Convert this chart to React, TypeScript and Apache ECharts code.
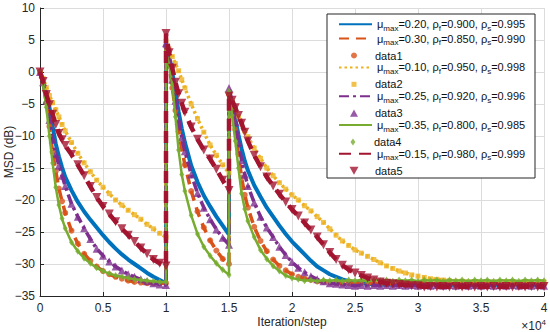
import React, { useEffect, useRef } from 'react';
import * as echarts from 'echarts';

// iteration index (steps)
const iterations = [
  0, 250, 500, 750, 1000, 1250, 1500, 1750, 2000, 2500, 3000, 3500, 4000, 4500, 5000, 5500, 6000, 6500, 7000, 7500, 8000, 8500, 9000, 9500, 10000,
  10000, 10250, 10500, 10750, 11000, 11250, 11500, 12000, 12500, 13000, 13500, 14000, 14500, 15000,
  15000, 15250, 15500, 15750, 16000, 16250, 16500, 17000, 17500, 18000, 18500, 19000, 19500, 20000,
  20500, 21000, 21500, 22000, 22500, 23000, 23500, 24000, 24500, 25000, 25500, 26000, 26500, 27000, 27500, 28000, 28500, 29000, 29500, 30000,
  30500, 31000, 31500, 32000, 32500, 33000, 33500, 34000, 34500, 35000, 35500, 36000, 36500, 37000, 37500, 38000, 38500, 39000, 39500, 40000,
];

const msdBlue = [
  0, -1.8, -3.5, -5.5, -8.5, -11.2, -13.2, -14.9, -16.4, -18.5, -20.3, -21.8, -23.1, -24.3, -25.5, -26.6, -27.6, -28.5, -29.3, -30.0, -30.7, -31.4, -32.0, -32.5, -33.0,
  4.5, 2.5, 0.0, -3.2, -6.2, -8.8, -11.0, -14.6, -17.2, -19.3, -21.0, -22.6, -24.0, -25.4,
  -3.0, -4.8, -7.3, -9.8, -12.0, -13.9, -15.4, -17.7, -19.5, -21.2, -22.6, -24.0, -25.3, -26.5,
  -27.5, -28.5, -29.5, -30.4, -31.0, -31.6, -32.0, -32.4, -32.7, -32.9, -33.0, -33.1, -33.2, -33.2, -33.3, -33.2, -33.3, -33.2, -33.3, -33.2,
  -33.3, -33.2, -33.3, -33.2, -33.3, -33.2, -33.3, -33.2, -33.3, -33.2, -33.3, -33.2, -33.3, -33.2, -33.3, -33.2, -33.3, -33.2, -33.3, -33.2,
];

const msdOrange = [
  0, -1.8, -4.8, -8.5, -12.5, -15.5, -18.2, -20.2, -22.0, -24.8, -26.8, -28.4, -29.5, -30.4, -31.1, -31.6, -32.0, -32.3, -32.6, -32.8, -32.9, -33.0, -33.0, -33.0, -33.0,
  4.0, 1.0, -2.5, -6.0, -9.3, -12.0, -14.5, -18.6, -21.8, -24.3, -26.3, -27.9, -29.2, -30.0,
  -3.5, -5.5, -9.0, -12.8, -16.5, -19.2, -21.2, -24.2, -26.4, -28.0, -29.3, -30.3, -31.0, -31.6,
  -32.0, -32.3, -32.5, -32.7, -32.8, -32.9, -33.0, -33.1, -33.0, -33.1, -33.0, -33.1, -33.0, -33.1, -33.0, -33.1, -33.0, -33.1, -33.0, -33.1,
  -33.0, -33.1, -33.0, -33.1, -33.0, -33.1, -33.0, -33.1, -33.0, -33.1, -33.0, -33.1, -33.0, -33.1, -33.0, -33.1, -33.0, -33.1, -33.0, -33.1,
];

const msdYellow = [
  0, -1.0, -2.4, -3.7, -4.8, -5.9, -7.0, -8.2, -9.2, -11.0, -12.7, -14.2, -15.6, -16.9, -18.0, -19.0, -20.0, -20.8, -21.6, -22.3, -23.0, -23.8, -24.5, -25.2, -25.8,
  4.8, 3.6, 2.4, 1.3, 0.2, -1.2, -2.5, -5.0, -7.3, -9.4, -11.4, -13.0, -14.5, -15.8,
  -3.3, -4.5, -5.8, -7.0, -8.2, -9.2, -10.1, -11.9, -13.5, -15.0, -16.2, -17.3, -18.3, -19.2,
  -20.0, -20.9, -21.7, -22.6, -23.5, -24.5, -25.5, -26.4, -27.1, -27.8, -28.3, -28.8, -29.3, -29.8, -30.3, -30.7, -31.1, -31.4, -31.7, -31.9,
  -32.1, -32.3, -32.4, -32.5, -32.6, -32.7, -32.7, -32.8, -32.8, -32.9, -32.8, -32.8, -32.9, -32.8, -32.8, -32.9, -32.8, -32.8, -32.9, -32.8,
];

const msdPurple = [
  0, -1.6, -4.5, -7.5, -10.5, -12.8, -14.6, -16.2, -17.8, -20.6, -22.6, -24.4, -26.1, -27.6, -28.7, -29.6, -30.4, -31.0, -31.6, -32.0, -32.4, -32.7, -33.0, -33.2, -33.3,
  4.5, 1.8, -1.2, -4.5, -7.6, -10.2, -12.4, -16.0, -18.9, -21.2, -23.0, -24.6, -25.9, -27.0,
  -2.5, -4.8, -7.8, -11.0, -13.8, -16.0, -17.8, -20.4, -22.6, -24.3, -25.8, -27.3, -28.6, -29.7,
  -30.6, -31.3, -31.9, -32.4, -32.7, -33.0, -33.1, -33.2, -33.3, -33.4, -33.3, -33.4, -33.3, -33.4, -33.3, -33.4, -33.3, -33.4, -33.3, -33.4,
  -33.3, -33.4, -33.3, -33.4, -33.3, -33.4, -33.3, -33.4, -33.3, -33.4, -33.3, -33.4, -33.3, -33.4, -33.3, -33.4, -33.3, -33.4, -33.3, -33.4,
];

const msdGreen = [
  0, -2.0, -5.5, -10.0, -14.2, -18.0, -20.8, -22.9, -24.4, -26.6, -28.0, -29.1, -29.9, -30.6, -31.1, -31.5, -31.8, -32.0, -32.2, -32.4, -32.5, -32.6, -32.7, -32.8, -32.8,
  3.2, 1.0, -2.0, -7.0, -12.2, -16.0, -18.6, -22.4, -25.3, -27.3, -28.7, -29.9, -30.9, -31.7,
  -3.0, -6.8, -10.8, -15.0, -19.0, -21.4, -23.3, -25.8, -27.8, -29.2, -30.3, -31.1, -31.8, -32.2,
  -32.4, -32.6, -32.5, -32.7, -32.5, -32.6, -32.5, -32.7, -32.5, -32.6, -32.5, -32.7, -32.5, -32.6, -32.5, -32.7, -32.5, -32.6, -32.5, -32.7,
  -32.5, -32.6, -32.5, -32.7, -32.5, -32.6, -32.5, -32.7, -32.5, -32.6, -32.5, -32.7, -32.5, -32.6, -32.5, -32.7, -32.5, -32.6, -32.5, -32.6,
];

const msdRed = [
  0, -1.5, -3.5, -5.1, -6.6, -8.2, -9.6, -10.6, -11.5, -12.9, -14.5, -16.2, -17.9, -19.6, -21.0, -22.2, -23.4, -24.5, -25.5, -26.5, -27.5, -28.4, -29.3, -29.9, -30.3,
  6.0, 3.0, 0.6, -1.6, -3.4, -4.9, -6.3, -8.6, -10.5, -12.2, -13.6, -15.2, -16.9, -18.5,
  -3.8, -4.4, -5.6, -6.8, -8.0, -9.4, -10.8, -13.0, -14.8, -16.4, -17.8, -19.1, -20.3, -21.5,
  -22.5, -23.6, -24.7, -25.8, -27.0, -28.2, -29.3, -30.2, -30.9, -31.4, -31.8, -32.2, -32.5, -32.8, -33.0, -33.1, -33.2, -33.3, -33.4, -33.4,
  -33.6, -33.5, -33.6, -33.5, -33.6, -33.5, -33.6, -33.5, -33.6, -33.5, -33.6, -33.5, -33.6, -33.5, -33.6, -33.5, -33.6, -33.5, -33.6, -33.5,
];

const muMax = ['0.20', '0.30', '0.10', '0.25', '0.35', '0.15'];
const rhoF = ['0.900', '0.850', '0.950', '0.920', '0.800', '0.980'];
const rhoS = ['0.995', '0.990', '0.998', '0.996', '0.985', '0.999'];
const markerNames = ['data1', 'data2', 'data3', 'data4', 'data5'];

const yMin = -35;
const yMax = 10;
const yStep = 5;
const xMin = 0;
const xMax = 40000;
const xStep = 5000;

const COLORS = ['#0072BD', '#D95319', '#EDB120', '#7E2F8E', '#77AC30', '#A2142F'];
const FONT = '"Liberation Sans", Arial, sans-serif';

export default function App() {
  const ref = useRef<HTMLDivElement>(null);
  useEffect(() => {
    if (!ref.current) return;
    const chart = echarts.init(ref.current, null, { renderer: 'svg' });
    const curves = [msdBlue, msdOrange, msdYellow, msdPurple, msdGreen, msdRed];
    const pairs = (vals: number[]) => vals.map((v, i) => [iterations[i], v]);
    const lineNames = muMax.map((m, i) => `μmax=${m}, ρf=${rhoF[i]}, ρs=${rhoS[i]}`);
    const lineStyles: any[] = [
      { width: 4, type: 'solid' },
      { width: 3.5, type: [10, 7] },
      { width: 3.5, type: [2.5, 3] },
      { width: 3.5, type: [10, 4, 3, 4] },
      { width: 2.5, type: 'solid' },
      { width: 4.5, type: [12, 8] },
    ];
    const markers: any[] = [
      null,
      { symbol: 'circle', size: 6, rotate: 0, legendSize: 6, icon: 'circle' },
      { symbol: 'rect', size: 5, rotate: 0, legendSize: 5, icon: 'rect' },
      { symbol: 'triangle', size: 8, rotate: 0, legendSize: 8, icon: 'path://M5,0L10,9L0,9Z' },
      { symbol: 'diamond', size: [5, 7], rotate: 0, legendSize: 7, icon: 'path://M3.5,0L7,5L3.5,10L0,5Z' },
      { symbol: 'triangle', size: 9, rotate: 180, legendSize: 9, icon: 'path://M0,0L10,0L5,9Z' },
    ];
    const series: any[] = [];
    const legendOrder: { name: string; marker: boolean; idx: number }[] = [];
    curves.forEach((vals, i) => {
      series.push({
        type: 'line',
        name: lineNames[i],
        data: pairs(vals),
        symbol: 'none',
        lineStyle: { color: COLORS[i], ...lineStyles[i] },
        itemStyle: { color: COLORS[i] },
        silent: true,
        z: 2 + i,
      });
      legendOrder.push({ name: lineNames[i], marker: false, idx: i });
      const mk = markers[i];
      if (mk) {
        const mName = markerNames[i - 1];
        series.push({
          type: 'scatter',
          name: mName,
          data: pairs(vals),
          symbol: mk.symbol,
          symbolSize: mk.size,
          symbolRotate: mk.rotate,
          itemStyle: { color: COLORS[i] },
          silent: true,
          z: 2 + i,
        });
        legendOrder.push({ name: mName, marker: true, idx: i });
      }
    });

    const richText = (i: number) =>
      `{t|μ}{s|max}{t|=${muMax[i]}, ρ}{s|f}{t|=${rhoF[i]}, ρ}{s|s}{t|=${rhoS[i]}}`;
    const rich = {
      t: { fontSize: 11, fontFamily: FONT, color: '#111', lineHeight: 16, verticalAlign: 'middle' },
      s: { fontSize: 8, fontFamily: FONT, color: '#111', lineHeight: 8, verticalAlign: 'bottom' },
    };
    const legends = legendOrder.map((item, r) => {
      const cy = 26.7 + 14.4 * r;
      if (item.marker) {
        const mk = markers[item.idx];
        const s = mk.legendSize;
        return {
          data: [{ name: item.name, icon: mk.icon }],
          left: 354 - s / 2,
          top: cy - 6,
          padding: 0,
          itemWidth: s,
          itemHeight: s,
          itemGap: 0,
          z: 20,
          selectedMode: false,
          textStyle: {
            fontSize: 11,
            fontFamily: FONT,
            color: '#111',
            lineHeight: 12,
            padding: [0, 0, 0, 16 - s / 2],
          },
        };
      }
      return {
        data: [item.name],
        left: 338,
        top: cy - 8,
        padding: 0,
        itemWidth: 33,
        itemHeight: 10,
        itemGap: 0,
        z: 20,
        selectedMode: false,
        itemStyle: { opacity: 0 },
        formatter: () => richText(item.idx),
        textStyle: { rich },
      };
    });

    chart.setOption({
      animation: false,
      backgroundColor: '#ffffff',
      grid: { left: 40, right: 6, top: 8, bottom: 36, outerBoundsMode: 'none', containLabel: false },
      xAxis: {
        type: 'value',
        min: xMin,
        max: xMax,
        interval: xStep,
        name: 'Iteration/step',
        nameLocation: 'middle',
        nameGap: 20,
        nameMoveOverlap: false,
        nameTextStyle: { fontSize: 12, fontFamily: FONT, color: '#262626' },
        axisLine: { show: true, onZero: false, lineStyle: { color: '#262626', width: 1 } },
        axisTick: { show: true, inside: true, length: 4, lineStyle: { color: '#262626' } },
        axisLabel: {
          fontSize: 12,
          fontFamily: FONT,
          color: '#262626',
          margin: 6,
          formatter: (v: number) => String(v / 10000),
        },
        splitLine: { show: true, lineStyle: { color: '#dcdcdc', width: 1 } },
      },
      yAxis: {
        type: 'value',
        min: yMin,
        max: yMax,
        interval: yStep,
        name: 'MSD (dB)',
        nameLocation: 'middle',
        nameGap: 25,
        nameMoveOverlap: false,
        nameTextStyle: { fontSize: 12, fontFamily: FONT, color: '#262626' },
        axisLine: { show: true, onZero: false, lineStyle: { color: '#262626', width: 1 } },
        axisTick: { show: true, inside: true, length: 4, lineStyle: { color: '#262626' } },
        axisLabel: {
          fontSize: 12,
          fontFamily: FONT,
          color: '#262626',
          margin: 5,
          formatter: (v: number) => String(v).replace('-', '−'),
        },
        splitLine: { show: true, lineStyle: { color: '#dcdcdc', width: 1 } },
      },
      legend: legends,
      graphic: [
        {
          type: 'rect',
          shape: { x: 327, y: 14, width: 208, height: 164 },
          style: { fill: '#ffffff', stroke: '#262626', lineWidth: 1 },
          z: 10,
          silent: true,
        },
        {
          type: 'text',
          right: 4,
          top: 318,
          style: {
            text: '{a|×10}{b|4}',
            rich: {
              a: { fontSize: 12, fontFamily: FONT, fill: '#262626', verticalAlign: 'bottom', lineHeight: 14 },
              b: { fontSize: 8, fontFamily: FONT, fill: '#262626', verticalAlign: 'top', lineHeight: 14 },
            },
          },
          z: 10,
          silent: true,
        },
      ],
      series,
    });
    return () => chart.dispose();
  }, []);
  return <div ref={ref} style={{ position: 'fixed', left: 0, top: 0, width: 550, height: 332 }} />;
}
